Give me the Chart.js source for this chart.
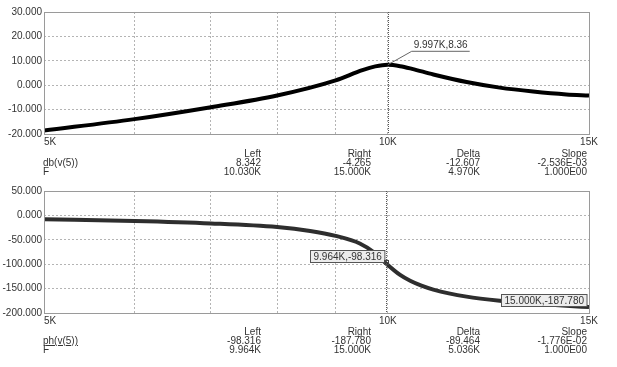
<!DOCTYPE html>
<html>
<head>
<meta charset="utf-8">
<script src="https://cdn.jsdelivr.net/npm/chart.js@4.4.0/dist/chart.umd.min.js"></script>
<style>
body { margin:0; background:#fff; width:617px; height:367px; overflow:hidden; position:relative;
       font-family:"Liberation Sans", Arial, sans-serif; font-size:10px; color:#333; }
canvas { position:absolute; left:0; }
.t { position:absolute; white-space:nowrap; line-height:10px; }
.r { transform:translateX(-100%); }
.u { text-decoration:underline; }
</style>
</head>
<body>
<canvas id="cTop" width="617" height="180" style="top:0"></canvas>
<canvas id="cBot" width="617" height="187" style="top:180px"></canvas>
<div id="tablas"></div>
<script>
// ---- datos: magnitud (dB) ----
const freqDb = [5000, 6000, 7000, 8000, 9000, 9500, 9750, 9997, 10250, 10500, 10960, 11720, 12530, 13400, 14330, 15000];
const valDb  = [-18.6, -13.9, -9.0, -4.2, 2.0, 6.2, 7.7, 8.36, 7.8, 6.7, 4.4, 1.3, -1.0, -2.6, -3.8, -4.265];

// ---- datos: fase (grados) ----
const freqPh = [5000, 6000, 7000, 8000, 8550, 9000, 9450, 9750, 9964, 10250, 10460, 10700, 10960, 11720, 12530, 13400, 14330, 15000];
const valPh  = [-8, -11.5, -16.5, -24, -32, -42, -57.5, -77.5, -98.316, -122, -134, -144, -152, -166.5, -175, -180.5, -185.3, -187.78];

// ejes
const xGrid = [5000, 6000, 7000, 8000, 9000, 10000, 15000];
const xLabelVals = [5000, 10000, 15000];
const xLabels = ['5K', '10K', '15K'];
const dbMin = -20, dbMax = 30, dbStep = 10;
const phMin = -200, phMax = 50, phStep = 50;

// cursores / marcas
const cursorTop = 9997;
const cursorBot = 9964;
const markTop = { f: 9997, v: 8.36, label: '9.997K,8.36' };
const marksBot = [
    { f: 9964, v: -98.316, label: '9.964K,-98.316', dot: true },
    { f: 15000, v: -187.78, label: '15.000K,-187.780', dot: false }
];

const FONT = '10px "Liberation Sans", Arial, sans-serif';

// marco + etiquetas X + cursor
function plotExtras(cursorF) {
    return {
        id: 'extras',
        afterDraw(chart) {
            const ctx = chart.ctx;
            const a = chart.chartArea;
            const xs = chart.scales.x;
            ctx.save();
            // marco
            ctx.strokeStyle = '#9a9a9a';
            ctx.lineWidth = 1;
            ctx.strokeRect(Math.round(a.left) + 0.5, Math.round(a.top) + 0.5,
                           Math.round(a.right - a.left), Math.round(a.bottom - a.top));
            // cursor
            const cx = Math.round(xs.getPixelForValue(cursorF)) + 0.5;
            ctx.strokeStyle = '#555';
            ctx.setLineDash([1, 1]);
            ctx.beginPath();
            ctx.moveTo(cx, a.top);
            ctx.lineTo(cx, a.bottom);
            ctx.stroke();
            ctx.setLineDash([]);
            // etiquetas X
            ctx.font = FONT;
            ctx.fillStyle = '#333';
            ctx.textBaseline = 'middle';
            xLabelVals.forEach((v, i) => {
                ctx.textAlign = i === 0 ? 'left' : 'center';
                ctx.fillText(xLabels[i], xs.getPixelForValue(v), a.bottom + 8);
            });
            ctx.restore();
        }
    };
}

const markTopPlugin = {
    id: 'markTop',
    afterDraw(chart) {
        const ctx = chart.ctx;
        const px = chart.scales.x.getPixelForValue(markTop.f);
        const py = chart.scales.y.getPixelForValue(markTop.v);
        ctx.save();
        ctx.strokeStyle = '#666';
        ctx.lineWidth = 1;
        ctx.beginPath();
        ctx.moveTo(px, py);
        ctx.lineTo(px + 24, py - 13.5);
        ctx.lineTo(px + 82, py - 13.5);
        ctx.stroke();
        ctx.font = FONT;
        ctx.fillStyle = '#333';
        ctx.textAlign = 'left';
        ctx.textBaseline = 'middle';
        ctx.fillText(markTop.label, px + 26, py - 20);
        ctx.restore();
    }
};

const marksBotPlugin = {
    id: 'marksBot',
    afterDraw(chart) {
        const ctx = chart.ctx;
        ctx.save();
        ctx.font = FONT;
        marksBot.forEach(m => {
            const px = chart.scales.x.getPixelForValue(m.f);
            const py = chart.scales.y.getPixelForValue(m.v);
            const w = ctx.measureText(m.label).width + 6;
            const h = 12;
            const bx = Math.round(px - 2 - w) + 0.5;
            const by = Math.round(py - 1 - h) + 0.5;
            ctx.fillStyle = '#ececec';
            ctx.fillRect(bx, by, w, h);
            ctx.strokeStyle = '#555';
            ctx.lineWidth = 1;
            ctx.strokeRect(bx, by, w, h);
            ctx.fillStyle = '#333';
            ctx.textAlign = 'center';
            ctx.textBaseline = 'middle';
            ctx.fillText(m.label, bx + w / 2, by + h / 2 + 0.5);
            if (m.dot) {
                ctx.strokeStyle = '#444';
                ctx.strokeRect(Math.round(px) - 1.5, Math.round(py) - 2.5, 4, 4);
            }
        });
        ctx.restore();
    }
};

function crearGrafico(canvas, freqs, vals, color, yMin, yMax, yStep, padTop, xH, plugins) {
    return new Chart(canvas, {
        type: 'line',
        data: {
            datasets: [{
                data: freqs.map((f, i) => ({ x: f, y: vals[i] })),
                borderColor: color,
                borderWidth: 4,
                pointRadius: 0,
                cubicInterpolationMode: 'monotone',
                fill: false
            }]
        },
        options: {
            responsive: false,
            animation: false,
            devicePixelRatio: 1,
            layout: { padding: { top: padTop, right: 28, left: 0, bottom: 0 } },
            plugins: { legend: { display: false }, tooltip: { enabled: false } },
            scales: {
                x: {
                    type: 'logarithmic',
                    min: 5000,
                    max: 15000,
                    afterBuildTicks: s => { s.ticks = xGrid.map(v => ({ value: v })); },
                    afterFit: s => { s.height = xH; },
                    ticks: { display: false },
                    grid: { color: '#b4b4b4', drawTicks: false },
                    border: { display: false, dash: [2, 2] }
                },
                y: {
                    min: yMin,
                    max: yMax,
                    afterFit: s => { s.width = 44; },
                    ticks: {
                        stepSize: yStep,
                        padding: 2,
                        color: '#333',
                        font: { family: '"Liberation Sans", Arial, sans-serif', size: 10 },
                        callback: v => v.toFixed(3)
                    },
                    grid: { color: '#b4b4b4', drawTicks: false },
                    border: { display: false, dash: [2, 2] }
                }
            }
        },
        plugins: plugins
    });
}

crearGrafico(document.getElementById('cTop'), freqDb, valDb, '#000000',
             dbMin, dbMax, dbStep, 12, 46, [plotExtras(cursorTop), markTopPlugin]);
crearGrafico(document.getElementById('cBot'), freqPh, valPh, '#2e2e2e',
             phMin, phMax, phStep, 11, 54, [plotExtras(cursorBot), marksBotPlugin]);

// ---- tablas de cursores ----
const colX = [261, 371, 480, 587];
const cabeceras = ['Left', 'Right', 'Delta', 'Slope'];
const filasTop = [
    ['db(v(5))', '8.342', '-4.265', '-12.607', '-2.536E-03'],
    ['F', '10.030K', '15.000K', '4.970K', '1.000E00']
];
const filasBot = [
    ['ph(v(5))', '-98.316', '-187.780', '-89.464', '-1.776E-02'],
    ['F', '9.964K', '15.000K', '5.036K', '1.000E00']
];

function tabla(yCab, filas, subrayar) {
    const cont = document.getElementById('tablas');
    const add = (txt, x, y, clase) => {
        const d = document.createElement('div');
        d.className = 't ' + clase;
        d.style.left = x + 'px';
        d.style.top = (y - 5) + 'px';
        d.textContent = txt;
        cont.appendChild(d);
    };
    cabeceras.forEach((c, i) => add(c, colX[i], yCab, 'r'));
    filas.forEach((fila, j) => {
        const y = yCab + 9 * (j + 1);
        add(fila[0], 43, y, (j === 0 && subrayar) ? 'u' : '');
        for (let i = 1; i < fila.length; i++) add(fila[i], colX[i - 1], y, 'r');
    });
}
tabla(154, filasTop, false);
tabla(332, filasBot, true);
</script>
</body>
</html>
